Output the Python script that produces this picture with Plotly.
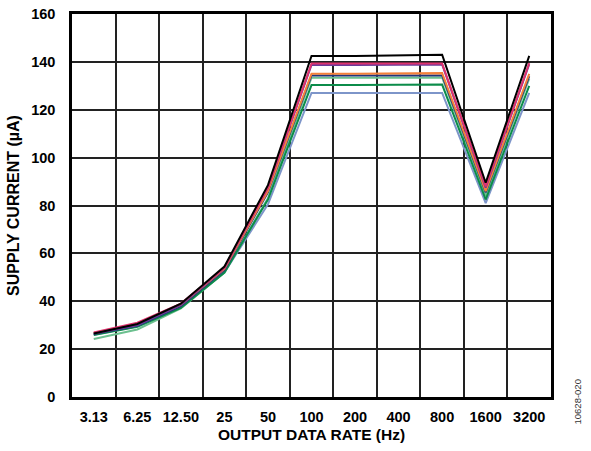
import plotly.graph_objects as go

categories = ["3.13", "6.25", "12.50", "25", "50", "100", "200", "400", "800", "1600", "3200"]

black = [26.5, 30.5, 39.0, 54.5, 88.5, 142.5, 142.5, 142.8, 143.0, 89.5, 142.5]
magenta = [27.0, 31.0, 39.0, 54.0, 87.5, 139.3, 139.3, 139.3, 139.3, 88.0, 139.5]
purple = [26.5, 30.0, 38.5, 54.0, 87.5, 138.7, 138.7, 138.7, 138.9, 87.5, 139.0]
orange = [26.7, 30.5, 38.5, 53.5, 86.0, 135.0, 135.0, 135.0, 135.3, 86.0, 135.0]
navy = [26.3, 29.8, 38.0, 53.0, 85.5, 134.3, 134.3, 134.3, 134.3, 85.5, 134.0]
light_green = [24.2, 28.2, 37.0, 52.0, 83.0, 133.4, 133.4, 133.4, 133.5, 84.0, 133.0]
dark_green = [25.9, 29.3, 37.2, 52.0, 82.5, 130.3, 130.3, 130.3, 130.5, 82.5, 130.0]
blue_gray = [26.0, 29.5, 37.5, 52.0, 80.5, 127.0, 127.0, 127.0, 127.0, 81.0, 127.0]

series = [
    (blue_gray, "#7d95c9"),
    (light_green, "#6cc08f"),
    (dark_green, "#0b8c4a"),
    (navy, "#23357a"),
    (orange, "#f4823a"),
    (purple, "#6b3a98"),
    (magenta, "#e0336e"),
    (black, "#000000"),
]

fig = go.Figure()
for vals, col in series:
    fig.add_trace(go.Scatter(x=categories, y=vals, mode="lines",
                             line=dict(color=col, width=2), showlegend=False))

font = "Liberation Sans, Arial, sans-serif"
fig.update_layout(
    width=591, height=451,
    margin=dict(l=72, r=40, t=14, b=54),
    paper_bgcolor="white", plot_bgcolor="white",
    font=dict(family=font, color="black"),
    xaxis=dict(
        type="category", tickson="boundaries", ticklen=0, automargin=False,
        tickangle=0,
        showgrid=True, gridcolor="#222222", gridwidth=1.5,
        showline=True, linecolor="black", linewidth=2.5, mirror=True,
        ticklabelstandoff=5,
        tickfont=dict(size=14.5, family=font, weight="bold"),
        title=dict(text="<b>OUTPUT DATA RATE (Hz)</b>", font=dict(size=15.5), standoff=5),
        range=[-0.5, 10.5],
    ),
    yaxis=dict(
        range=[0, 160], tickvals=list(range(0, 161, 20)), automargin=False,
        showgrid=True, gridcolor="#222222", gridwidth=1.5,
        showline=True, linecolor="black", linewidth=2.5, mirror=True,
        ticks="", ticklen=0, ticklabelstandoff=11,
        tickfont=dict(size=14.5, family=font, weight="bold"),
        title=dict(text="<b>SUPPLY CURRENT (µA)</b>", font=dict(size=16), standoff=8),
        zeroline=False,
    ),
    annotations=[dict(
        text="10628-020", textangle=-90, xref="paper", yref="paper",
        x=1.0, y=0.0, xshift=26, yshift=-30, showarrow=False,
        font=dict(size=9.5, color="#333333", family=font),
        xanchor="center", yanchor="bottom",
    )],
)

fig.write_html("out.html", config={"displayModeBar": False},
               post_script="document.body.style.margin='0';document.body.style.padding='0';")
